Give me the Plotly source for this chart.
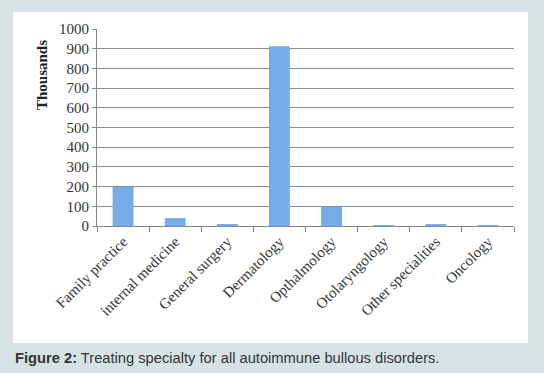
import plotly.graph_objects as go

categories = ["Family practice", "internal medicine", "General surgery", "Dermatology",
              "Opthalmology", "Otolaryngology", "Other specialities", "Oncology"]
values = [198, 40, 8, 913, 97, 1, 7, 4]
y_ticks = [0, 100, 200, 300, 400, 500, 600, 700, 800, 900, 1000]

W, H = 544, 373
L, R, T, B = 97, 30, 29, 147
pw, ph = W - L - R, H - T - B

def px(x):
    return (x - L) / pw

def py(y):
    return (H - B - y) / ph

fig = go.Figure()
fig.add_trace(go.Bar(
    x=categories, y=values, width=0.4,
    marker=dict(color="#76ade9", line=dict(width=0)),
))

fig.update_layout(
    width=W, height=H,
    margin=dict(l=L, r=R, t=T, b=B, autoexpand=False),
    paper_bgcolor="#d5e3e4",
    plot_bgcolor="rgba(0,0,0,0)",
    showlegend=False,
    font=dict(family="Liberation Serif", color="#333"),
    shapes=[dict(type="rect", xref="paper", yref="paper",
                 x0=px(13), x1=px(528), y0=py(343), y1=py(12),
                 fillcolor="white", line=dict(width=0), layer="below")],
    annotations=[
        dict(xref="paper", yref="paper", x=px(42), y=py(75), text="<b>Thousands</b>",
             textangle=-90, showarrow=False, font=dict(family="Liberation Serif", size=15, color="#222"),
             xanchor="center", yanchor="middle"),
        dict(xref="paper", yref="paper", x=px(13), y=py(358),
             text="<b>Figure 2:</b> Treating specialty for all autoimmune bullous disorders.",
             showarrow=False, xanchor="left", yanchor="middle",
             font=dict(family="Liberation Sans", size=14.7, color="#333")),
    ],
)
fig.update_xaxes(
    tickangle=-45, tickson="boundaries", ticks="outside", ticklen=5, tickcolor="#888",
    showline=True, linecolor="#888", linewidth=1, showgrid=False,
    tickfont=dict(family="Liberation Serif", size=15, color="#333"),
)
fig.update_yaxes(
    range=[0, 1000], tickvals=y_ticks, ticks="outside", ticklen=4, tickcolor="#888",
    showline=True, linecolor="#888", linewidth=1,
    showgrid=True, gridcolor="#8c8c8c", gridwidth=1,
    tickfont=dict(family="Liberation Serif", size=15, color="#333"),
    zeroline=False,
)

fig.write_html("out.html", config={"displayModeBar": False},
               post_script="document.body.style.margin='0';document.body.style.overflow='hidden';")
